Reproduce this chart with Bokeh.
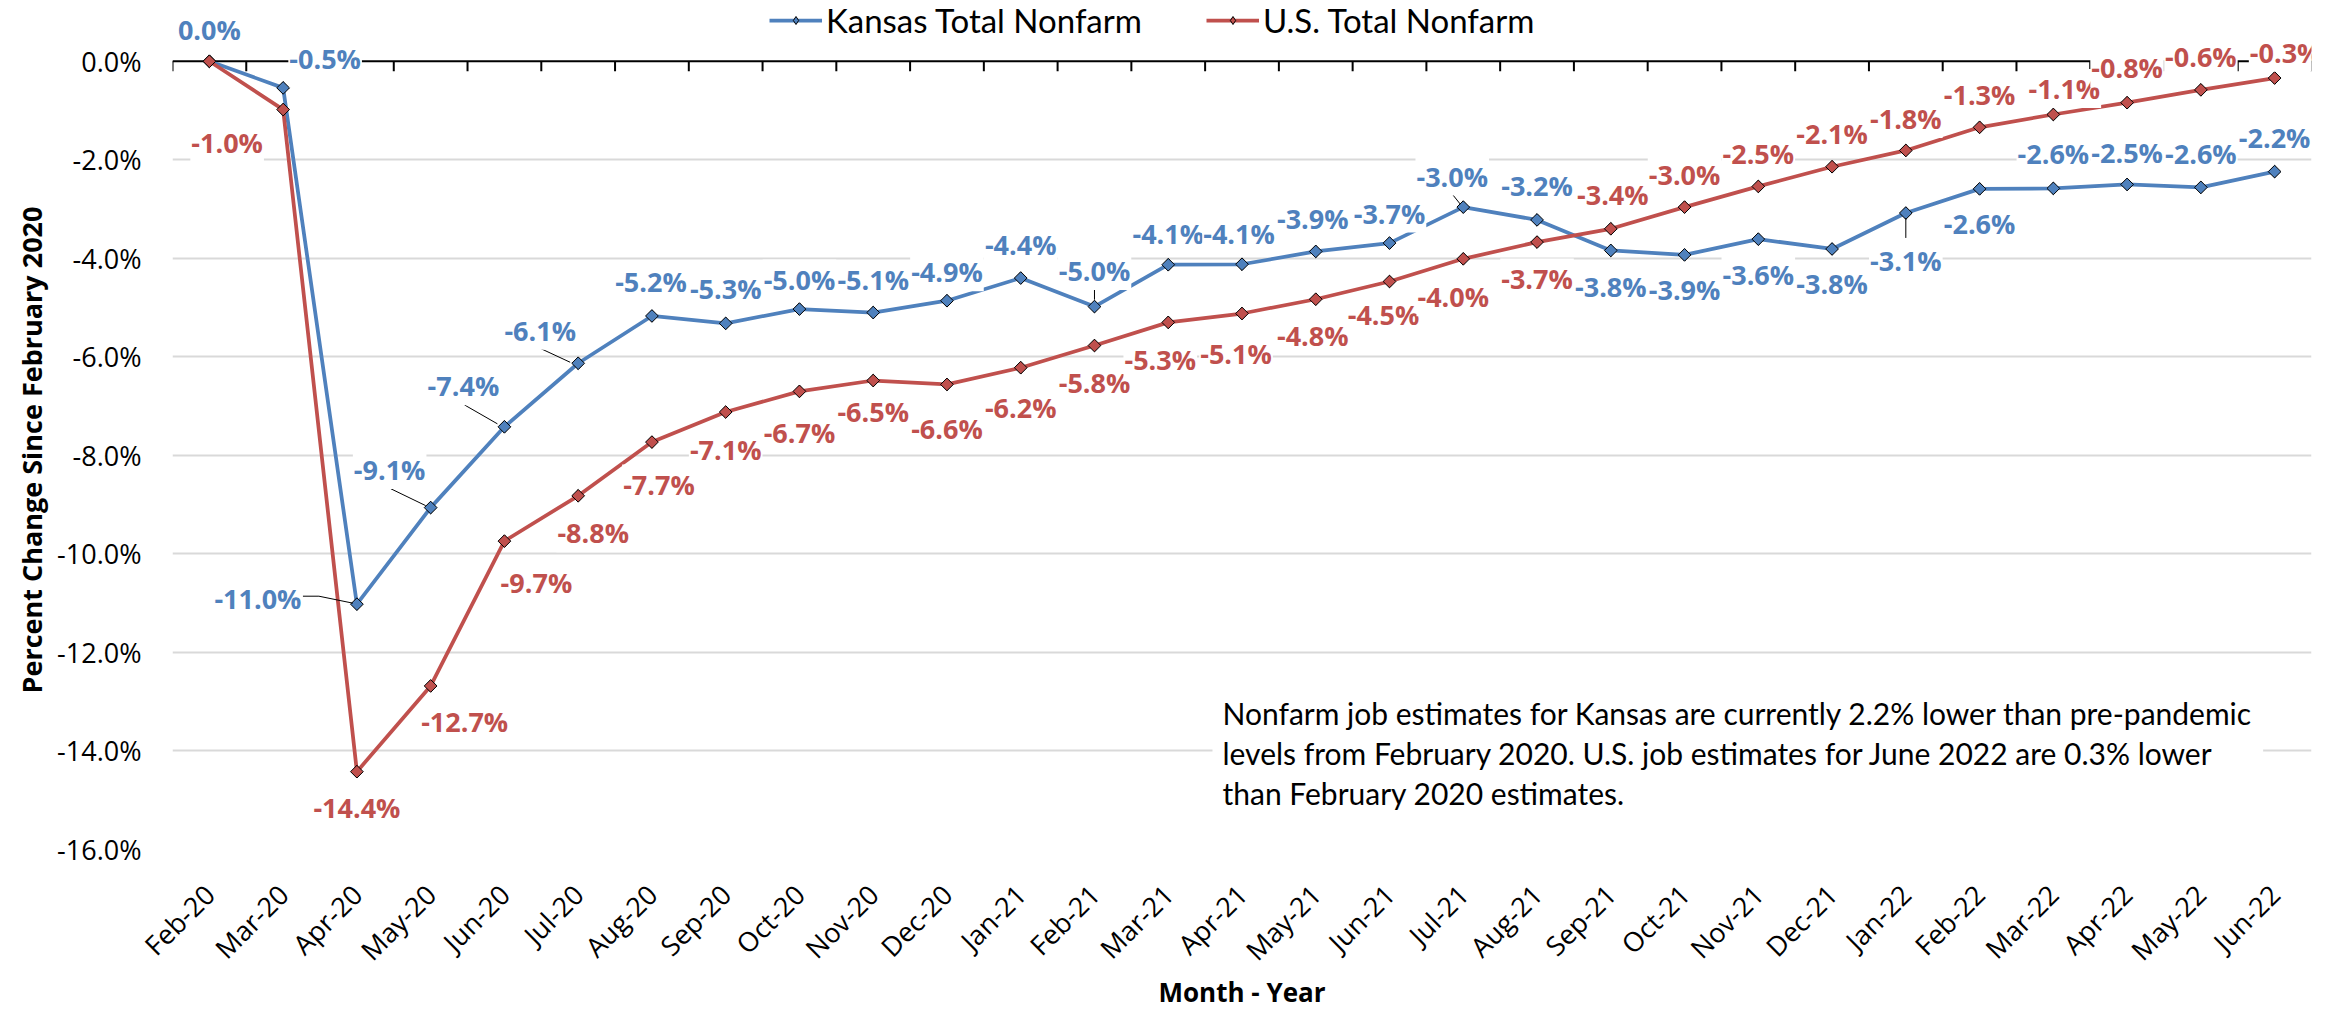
import math
from bokeh.plotting import figure
from bokeh.models import (ColumnDataSource, FixedTicker, PrintfTickFormatter, Legend,
                          LegendItem, Label, Title)
from bokeh.core.properties import value
from bokeh.embed import file_html
from bokeh.resources import INLINE

# ---------------- data ----------------
months = ["Feb-20", "Mar-20", "Apr-20", "May-20", "Jun-20", "Jul-20", "Aug-20", "Sep-20",
          "Oct-20", "Nov-20", "Dec-20", "Jan-21", "Feb-21", "Mar-21", "Apr-21", "May-21",
          "Jun-21", "Jul-21", "Aug-21", "Sep-21", "Oct-21", "Nov-21", "Dec-21", "Jan-22",
          "Feb-22", "Mar-22", "Apr-22", "May-22", "Jun-22"]
kansas = [0.0, -0.54, -11.02, -9.06, -7.42, -6.13, -5.17, -5.32, -5.03, -5.10, -4.86,
          -4.40, -4.98, -4.13, -4.12, -3.86, -3.69, -2.96, -3.22, -3.84, -3.93, -3.61, -3.81,
          -3.08, -2.59, -2.58, -2.50, -2.56, -2.24]
us_total = [0.0, -0.98, -14.42, -12.68, -9.74, -8.82, -7.73, -7.12, -6.70, -6.48, -6.56,
            -6.22, -5.77, -5.30, -5.12, -4.83, -4.47, -4.01, -3.67, -3.40, -2.96, -2.54, -2.14,
            -1.81, -1.34, -1.08, -0.84, -0.58, -0.34]
y_ticks = [-16, -14, -12, -10, -8, -6, -4, -2, 0]

# data-label placement (pixel offsets from the point; dy positive = down)
ks_dx = [0, 42, -99, -41, -41, -38, -1, 0, 0, 0, 0, 0, 0, 0, -3, -3, 0, -11, 0,
         0, 0, 0, 0, 0, 0, 0, 0, 0, 0]
ks_dy = [-32, -29, -6, -38, -41, -33, -34, -35, -30, -33, -29, -34, -36, -31, -31, -33, -30, -31, -34,
         36, 35, 35, 35, 47, 35, -35, -32, -34, -34]
us_dx = [0, -56, 0, 34, 32, 15, 7, 0, 0, 0, 0, 0, 0, -8, -6, -3, -6, -10, 0,
         2, 0, 0, 0, 0, 0, 11, 0, 0, 11]
us_dy = [0, 33, 36, 36, 41, 37, 42, 37, 41, 31, 44, 40, 37, 37, 40, 36, 33, 38, 36,
         -34, -33, -33, -33, -32, -33, -26, -35, -33, -26]
us_show = [False] + [True] * 28
# leader lines (pixel offsets from point) for selected Kansas labels
ks_leaders = {2: [(-54, -8), (-38, -8), (-4, -1)],
              3: [(-40, -19), (-5, -2)],
              4: [(-40, -22), (-7, -3)],
              5: [(-38, -15), (-8, -1)],
              12: [(0, -20), (0, -7)],
              17: [(-11, -13), (-3, -3)],
              23: [(0, 5), (0, 25)]}

note = ("Nonfarm job estimates for Kansas are currently 2.2% lower than pre-pandemic\n"
        "levels from February 2020. U.S. job estimates for June 2022 are 0.3% lower\n"
        "than February 2020 estimates.")

KS_COLOR = "#4F81BD"
US_COLOR = "#C0504D"

# ---------------- geometry ----------------
W, H = 2344, 1012
LEFT, RIGHT, TOP, BOTTOM = 172, 33, 0, 160
FW = W - LEFT - RIGHT
FH = H - TOP - BOTTOM
ZERO_PX = 61                       # zero line from frame top
PX_Y = (FH - ZERO_PX) / 16.0
Y_END = ZERO_PX / PX_Y
PX_X = FW / len(months)


def dx_data(px):
    return px / PX_X


def dy_data(px):
    return -px / PX_Y


x = list(range(len(months)))

p = figure(width=W, height=H, x_range=(-0.5, len(months) - 0.5), y_range=(-16, Y_END),
           output_backend="svg", toolbar_location=None,
           min_border_left=LEFT, min_border_right=RIGHT, min_border_top=TOP,
           min_border_bottom=BOTTOM)
p.outline_line_color = None
p.background_fill_color = "white"
p.border_fill_color = "white"

# grid
p.xgrid.visible = False
p.ygrid.ticker = FixedTicker(ticks=[t for t in y_ticks if t != 0])
p.ygrid.grid_line_color = "#D9D9D9"
p.ygrid.grid_line_width = 2

# y axis
p.yaxis.ticker = FixedTicker(ticks=y_ticks)
p.yaxis.formatter = PrintfTickFormatter(format="%.1f%%")
p.yaxis.axis_line_color = None
p.yaxis.major_tick_line_color = None
p.yaxis.minor_tick_line_color = None
p.yaxis.major_tick_out = 0
p.yaxis.major_tick_in = 0
p.yaxis.major_label_standoff = 31
p.yaxis.major_label_text_font = "Open Sans"
p.yaxis.major_label_text_font_size = "27px"
p.yaxis.major_label_text_color = "black"

p.add_layout(Title(text="Percent Change Since February 2020", align="left", offset=156,
                   text_font="Open Sans", text_font_size="27px", text_font_style="bold",
                   text_color="black"), "left")

# x axis
p.xaxis.ticker = FixedTicker(ticks=x)
p.xaxis.major_label_overrides = {i: m for i, m in enumerate(months)}
p.xaxis.major_label_orientation = math.pi / 4
p.xaxis.axis_line_color = None
p.xaxis.major_tick_line_color = None
p.xaxis.minor_tick_line_color = None
p.xaxis.major_tick_out = 0
p.xaxis.major_tick_in = 0
p.xaxis.major_label_standoff = 40
p.xaxis.major_label_text_font = "Open Sans"
p.xaxis.major_label_text_font_size = "27px"
p.xaxis.major_label_text_color = "black"
p.xaxis.axis_label = "Month - Year"
p.xaxis.axis_label_text_font = "Open Sans"
p.xaxis.axis_label_text_font_size = "26px"
p.xaxis.axis_label_text_font_style = "bold"
p.xaxis.axis_label_text_color = "black"
p.xaxis.axis_label_standoff = -10

# horizontal axis line at zero with category-boundary tick marks
bounds = [i - 0.5 for i in range(len(months) + 1)]
p.segment(x0=[-0.5], y0=[0], x1=[len(months) - 0.5], y1=[0], line_color="black", line_width=2)
p.segment(x0=bounds, y0=[0] * len(bounds), x1=bounds, y1=[dy_data(10)] * len(bounds),
          line_color="black", line_width=2)

# series
ks_line = p.line(x, kansas, line_color=KS_COLOR, line_width=3.75)
us_line = p.line(x, us_total, line_color=US_COLOR, line_width=3.75)
# diamond markers (a small diamond underneath is what the legend shows)
ks_leg = p.scatter(x, kansas, marker="diamond", size=12, fill_color=KS_COLOR,
                   line_color="black", line_width=1)
us_leg = p.scatter(x, us_total, marker="diamond", size=12, fill_color=US_COLOR,
                   line_color="black", line_width=1)
ks_pts = p.scatter(x, kansas, marker="square", angle=math.pi / 4, size=9,
                   fill_color=KS_COLOR, line_color="black", line_width=1)
us_pts = p.scatter(x, us_total, marker="square", angle=math.pi / 4, size=9,
                   fill_color=US_COLOR, line_color="black", line_width=1)

# leader lines
lx, ly = [], []
for i, pts in ks_leaders.items():
    lx.append([i + dx_data(a) for a, b in pts])
    ly.append([kansas[i] + dy_data(b) for a, b in pts])
p.multi_line(lx, ly, line_color="black", line_width=1)

# data labels
ks_src = ColumnDataSource(dict(x=x, y=kansas, t=[f"{v:.1f}%" for v in kansas],
                               dx=ks_dx, dy=ks_dy))
us_idx = [i for i in x if us_show[i]]
us_src = ColumnDataSource(dict(x=us_idx, y=[us_total[i] for i in us_idx],
                               t=[f"{us_total[i]:.1f}%" for i in us_idx],
                               dx=[us_dx[i] for i in us_idx], dy=[us_dy[i] for i in us_idx]))
for src, col in ((us_src, US_COLOR), (ks_src, KS_COLOR)):
    p.text(x="x", y="y", text="t", x_offset="dx", y_offset="dy", source=src,
           text_font=value("Open Sans"), text_font_style="bold", text_font_size="27px",
           text_color=col, text_align="center", text_baseline="middle",
           background_fill_color="white", padding=1)

# legend
legend = Legend(items=[LegendItem(label="Kansas Total Nonfarm", renderers=[ks_line, ks_leg]),
                       LegendItem(label="U.S. Total Nonfarm", renderers=[us_line, us_leg])],
                orientation="horizontal", location=(597, 809),
                label_text_font="Lato", label_text_font_size="33px", label_text_color="black",
                glyph_width=53, glyph_height=20, label_standoff=4, spacing=64,
                padding=0, margin=0, border_line_color=None, background_fill_alpha=0)
p.add_layout(legend)

# note
p.add_layout(Label(x=dx_data(1222 - 10 - LEFT) - 0.5, y=dy_data(687 - ZERO_PX), text=note,
                   text_font="Lato", text_font_size="30px", text_color="black",
                   text_align="left", text_baseline="top", text_line_height=1.11,
                   background_fill_color="white", padding=10))

open("out.html", "w").write(file_html(p, INLINE))
